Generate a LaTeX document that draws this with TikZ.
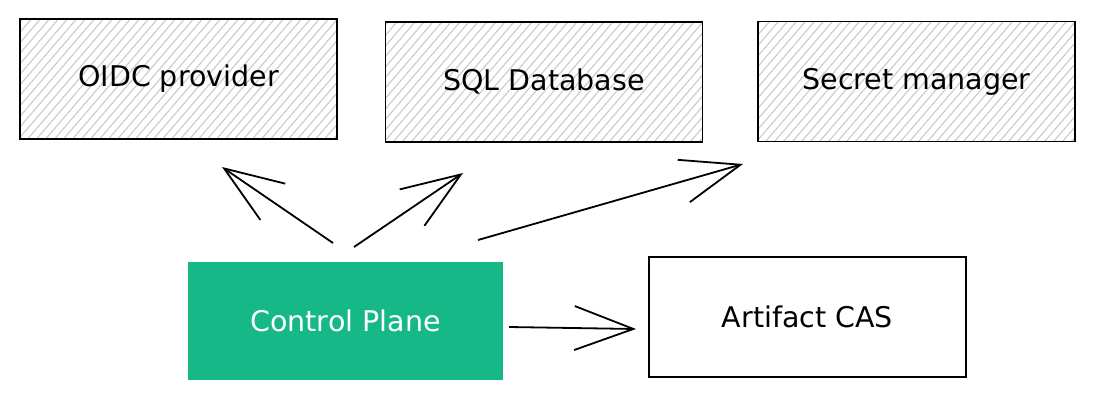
\documentclass[tikz,border=0pt]{standalone}
\usepackage{fontspec}
\setmainfont{DejaVu Sans}
\usetikzlibrary{arrows.meta,calc}
\definecolor{cpgreen}{HTML}{15B886}
\definecolor{hatchgray}{HTML}{C9CED4}
\tikzset{
  box/.style={draw=black, line width=1.6pt, minimum width=317pt, minimum height=120pt, inner sep=0pt, font=\fontsize{28.5}{32}\selectfont},
  hatched/.style={path picture={
    \foreach \k in {0,...,52}{
      \draw[hatchline] ($(path picture bounding box.south west)+(\k*9-130,3)$) -- ++(120,-140);
    }}},
  greenbox/.style={fill=cpgreen, minimum width=315pt, minimum height=118pt, inner sep=0pt, text=white, font=\fontsize{28.5}{32}\selectfont},
  arr/.style={line width=1.8pt, -{Straight Barb[length=59pt,width=44pt,line width=1.8pt]}},
  hatchline/.style={draw=hatchgray, line width=1.2pt}
}
\begin{document}
\begin{tikzpicture}[x=1pt,y=-1pt]
  \useasboundingbox (0,0) rectangle (1094,400);
  \node[box,hatched] (oidc) at (178.5,79) {OIDC provider};
  \node[box,hatched] (sql) at (544,82) {SQL Database};
  \node[box,hatched] (secret) at (916.5,81.5) {Secret manager};
  \node[greenbox] (cp) at (345.5,321) {Control Plane};
  \node[box] (cas) at (807.5,317) {Artifact CAS};
  \coordinate (t1) at (333,243); \coordinate (h1) at (222,167);
  \coordinate (t2) at (354,247); \coordinate (h2) at (463,173);
  \coordinate (t3) at (478,240); \coordinate (h3) at (743,164);
  \coordinate (t4) at (509,327); \coordinate (h4) at (636,329);
  \draw[arr] (t1) -- (h1);
  \draw[arr] (t2) -- (h2);
  \draw[arr] (t3) -- (h3);
  \draw[arr] (t4) -- (h4);
\end{tikzpicture}
\end{document}
